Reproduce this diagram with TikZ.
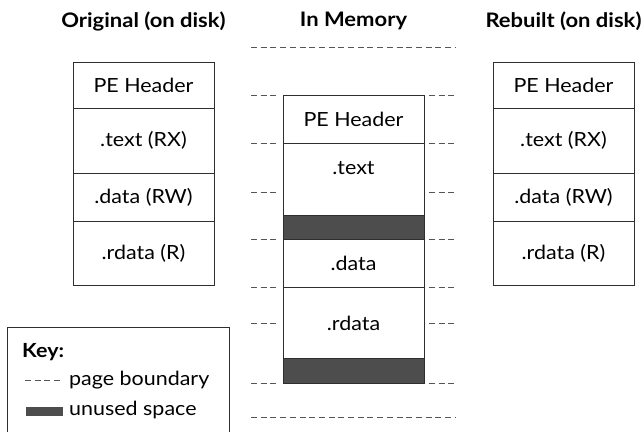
\documentclass[tikz,border=0pt]{standalone}
\usepackage{fontspec}
\setmainfont{Lato}[FakeStretch=1.1]
\usetikzlibrary{positioning}

\definecolor{unusedgray}{HTML}{4D4D4D}
\definecolor{edgegray}{HTML}{2E2E2E}
\definecolor{dashgray}{HTML}{555555}

\newcommand{\bodysize}{\fontsize{19.5}{23}\selectfont}

\tikzset{
  sect/.style={draw=edgegray, line width=0.9pt, minimum width=#1, inner sep=0pt,
    outer sep=0pt, font=\bodysize},
  unused/.style={sect=#1, fill=unusedgray},
  pageline/.style={draw=dashgray, line width=0.9pt, dash pattern=on 6pt off 3.7pt},
  coltitle/.style={font=\fontsize{20}{24}\selectfont\bfseries},
  keytext/.style={anchor=west, inner sep=0pt, font=\bodysize}
}

\begin{document}
\begin{tikzpicture}[x=1pt, y=-1pt]
  \useasboundingbox (0,0) rectangle (644,431);

  % -- Column titles --
  \node[coltitle] (titleOrig) at (143.5,21) {Original (on disk)};
  \node[coltitle] (titleMem) at (353.5,21) {In Memory};
  \node[coltitle] (titleRebuilt) at (563.5,21) {Rebuilt (on disk)};

  % -- Original image on disk --
  \node[sect=141, minimum height=46] (origPE) at (143.5,85) {PE Header};
  \node[sect=141, minimum height=65, below=0pt of origPE] (origText) {.text (RX)};
  \node[sect=141, minimum height=48, below=0pt of origText] (origData) {.data (RW)};
  \node[sect=141, minimum height=64, below=0pt of origData] (origRdata) {.rdata (R)};

  % -- Page boundaries in memory --
  \draw[pageline] (251,47.7) -- (455,47.7);
  \foreach \yy in {95.7,143.7,192,239.7,287.7,323.7,383.7}
    \draw[pageline] (251,\yy) -- (277,\yy) (429,\yy) -- (455,\yy);
  \draw[pageline] (251,417.7) -- (455,417.7);

  % -- Image mapped in memory --
  \node[sect=141, minimum height=48] (memPE) at (353.5,119.7) {PE Header};
  \node[sect=141, minimum height=72, below=0pt of memPE,
    label={[anchor=center, yshift=-24pt, font=\bodysize]north:.text}] (memText) {};
  \node[unused=141, minimum height=24, below=0pt of memText] (memGapA) {};
  \node[sect=141, minimum height=48, below=0pt of memGapA] (memData) {.data};
  \node[sect=141, minimum height=71, below=0pt of memData] (memRdata) {.rdata};
  \node[unused=141, minimum height=24.7, below=0pt of memRdata] (memGapB) {};

  % -- Rebuilt image on disk --
  \node[sect=141, minimum height=46] (rebPE) at (563.5,85) {PE Header};
  \node[sect=141, minimum height=65, below=0pt of rebPE] (rebText) {.text (RX)};
  \node[sect=141, minimum height=48, below=0pt of rebText] (rebData) {.data (RW)};
  \node[sect=141, minimum height=64, below=0pt of rebData] (rebRdata) {.rdata (R)};

  % Key
  \draw[draw=edgegray, line width=0.9pt] (7.5,440) -- (7.5,327) -- (229,327) -- (229,440);
  \node[keytext, font=\bodysize\bfseries] (keyTitle) at (22,352) {Key:};
  \draw[pageline] (25,380) -- (63,380);
  \node[keytext] (keyPage) at (69,380) {page boundary};
  \fill[unusedgray] (26,406.5) rectangle (63,416);
  \node[keytext] (keyUnused) at (69,410) {unused space};

\end{tikzpicture}
\end{document}
